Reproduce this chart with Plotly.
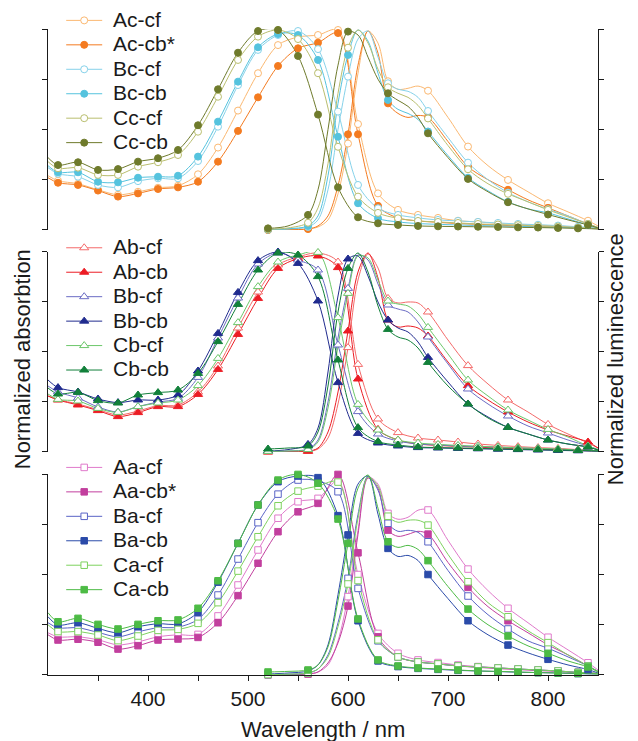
import plotly.graph_objects as go

# ---------------- data ----------------
ABS_WL = [300, 310, 330, 350, 370, 390, 410, 430, 450, 470, 490, 510, 530, 550, 570,
          590, 610, 630, 650, 670, 690, 710, 730, 750, 770, 790, 810, 830, 850]
ABS_MARK_WL = [310, 330, 350, 370, 390, 410, 430, 450, 470, 490, 510, 530, 550, 570,
               590, 610, 630, 650, 670, 690, 710, 730, 750, 770, 790, 810, 830]
EM_WL = [520, 540, 560, 570, 580, 590, 600, 610, 620, 630, 640, 650, 660, 670, 680,
         700, 720, 740, 760, 780, 800, 820, 840, 850]
EM_MARK_WL = [520, 560, 600, 640, 680, 720, 760, 800, 840]
X_TICKS = [400, 500, 600, 700, 800]
X_MINOR = [350, 450, 550, 650, 750]
Y_TICKS = [0, 0.25, 0.5, 0.75, 1]

# top panel (c)
AC_CF_ABS = [0.27, 0.245, 0.23, 0.20, 0.175, 0.19, 0.21, 0.22, 0.277, 0.41, 0.594, 0.78, 0.92, 0.96, 0.97,
             0.995, 0.527, 0.182, 0.10, 0.075, 0.06, 0.046, 0.04, 0.033, 0.028, 0.024, 0.02, 0.013, 0.008]
AC_CB_ABS = [0.26, 0.235, 0.224, 0.196, 0.166, 0.182, 0.204, 0.212, 0.24, 0.34, 0.493, 0.66, 0.816, 0.904, 0.932,
             0.98, 0.476, 0.12, 0.06, 0.045, 0.038, 0.032, 0.028, 0.024, 0.02, 0.017, 0.014, 0.01, 0.006]
BC_CF_ABS = [0.31, 0.28, 0.265, 0.224, 0.212, 0.243, 0.257, 0.257, 0.343, 0.514, 0.721, 0.896, 0.97, 0.99, 0.9,
             0.589, 0.224, 0.108, 0.075, 0.06, 0.05, 0.045, 0.04, 0.035, 0.03, 0.026, 0.022, 0.016, 0.01]
BC_CB_ABS = [0.32, 0.287, 0.287, 0.24, 0.237, 0.26, 0.265, 0.27, 0.365, 0.539, 0.738, 0.909, 0.975, 0.97, 0.846,
             0.464, 0.133, 0.058, 0.04, 0.032, 0.028, 0.025, 0.022, 0.02, 0.018, 0.015, 0.013, 0.01, 0.006]
CC_CF_ABS = [0.34, 0.307, 0.31, 0.274, 0.274, 0.315, 0.337, 0.373, 0.489, 0.663, 0.846, 0.962, 0.995, 0.95, 0.78,
             0.414, 0.166, 0.085, 0.058, 0.045, 0.04, 0.035, 0.03, 0.027, 0.024, 0.02, 0.017, 0.012, 0.008]
CC_CB_ABS = [0.36, 0.323, 0.337, 0.299, 0.303, 0.34, 0.357, 0.398, 0.521, 0.70, 0.882, 0.99, 0.995, 0.866, 0.574,
             0.212, 0.063, 0.033, 0.025, 0.02, 0.018, 0.017, 0.016, 0.015, 0.013, 0.012, 0.01, 0.008, 0.005]

AC_CF_EM = [0.0, 0.002, 0.005, 0.015, 0.05, 0.18, 0.43, 0.78, 0.99, 0.93, 0.74, 0.70, 0.705, 0.716, 0.693,
            0.56, 0.415, 0.32, 0.249, 0.19, 0.133, 0.09, 0.046, 0.02]
AC_CB_EM = [0.0, 0.002, 0.005, 0.02, 0.07, 0.22, 0.476, 0.82, 0.99, 0.88, 0.63, 0.58, 0.56, 0.57, 0.56,
            0.44, 0.315, 0.25, 0.2, 0.15, 0.11, 0.07, 0.03, 0.012]
BC_CF_EM = [0.002, 0.005, 0.015, 0.05, 0.2, 0.5, 0.763, 0.95, 0.99, 0.86, 0.73, 0.70, 0.69, 0.66, 0.592,
            0.46, 0.335, 0.25, 0.186, 0.14, 0.103, 0.07, 0.03, 0.012]
BC_CB_EM = [0.002, 0.006, 0.02, 0.07, 0.27, 0.63, 0.871, 0.995, 0.94, 0.78, 0.647, 0.6, 0.58, 0.55, 0.49,
            0.37, 0.26, 0.195, 0.14, 0.105, 0.085, 0.055, 0.025, 0.01]
CC_CF_EM = [0.003, 0.01, 0.036, 0.11, 0.33, 0.68, 0.907, 0.995, 0.93, 0.8, 0.71, 0.68, 0.66, 0.62, 0.555,
            0.42, 0.302, 0.23, 0.18, 0.14, 0.1, 0.065, 0.03, 0.012]
CC_CB_EM = [0.008, 0.02, 0.075, 0.2, 0.5, 0.82, 0.987, 0.97, 0.86, 0.75, 0.68, 0.645, 0.615, 0.56, 0.481,
            0.36, 0.254, 0.19, 0.138, 0.105, 0.077, 0.05, 0.025, 0.01]

# middle panel (b)
AB_CF_ABS = [0.28, 0.262, 0.24, 0.212, 0.185, 0.205, 0.232, 0.235, 0.30, 0.43, 0.62, 0.80, 0.935, 0.975, 0.995,
             0.95, 0.438, 0.165, 0.097, 0.07, 0.06, 0.05, 0.04, 0.033, 0.027, 0.022, 0.018, 0.012, 0.007]
AB_CB_ABS = [0.28, 0.26, 0.235, 0.207, 0.177, 0.197, 0.227, 0.227, 0.288, 0.413, 0.588, 0.768, 0.918, 0.967, 0.98,
             0.922, 0.365, 0.113, 0.06, 0.04, 0.033, 0.028, 0.024, 0.02, 0.017, 0.014, 0.012, 0.008, 0.005]
BB_CF_ABS = [0.33, 0.30, 0.27, 0.225, 0.20, 0.227, 0.25, 0.268, 0.373, 0.57, 0.77, 0.94, 0.995, 0.96, 0.91,
             0.535, 0.202, 0.09, 0.055, 0.04, 0.035, 0.03, 0.027, 0.024, 0.02, 0.017, 0.014, 0.01, 0.006]
BB_CB_ABS = [0.36, 0.322, 0.30, 0.265, 0.247, 0.26, 0.26, 0.285, 0.405, 0.593, 0.798, 0.957, 1.0, 0.943, 0.755,
             0.347, 0.093, 0.045, 0.03, 0.022, 0.02, 0.018, 0.016, 0.014, 0.012, 0.01, 0.008, 0.006, 0.004]
CB_CF_ABS = [0.29, 0.263, 0.255, 0.218, 0.198, 0.227, 0.245, 0.26, 0.332, 0.468, 0.647, 0.827, 0.95, 0.985, 0.998,
             0.672, 0.238, 0.11, 0.06, 0.045, 0.038, 0.033, 0.029, 0.025, 0.021, 0.018, 0.015, 0.01, 0.006]
CB_CB_ABS = [0.32, 0.29, 0.298, 0.257, 0.245, 0.285, 0.297, 0.31, 0.393, 0.552, 0.738, 0.91, 0.995, 0.985, 0.877,
             0.46, 0.122, 0.052, 0.035, 0.025, 0.022, 0.02, 0.018, 0.016, 0.014, 0.012, 0.01, 0.008, 0.005]

AB_CF_EM = [0.0, 0.001, 0.003, 0.015, 0.07, 0.24, 0.522, 0.86, 0.99, 0.92, 0.768, 0.745, 0.75, 0.745, 0.70,
            0.56, 0.432, 0.34, 0.26, 0.2, 0.138, 0.09, 0.045, 0.02]
AB_CB_EM = [0.0, 0.002, 0.004, 0.02, 0.1, 0.3, 0.605, 0.9, 0.995, 0.87, 0.66, 0.625, 0.63, 0.62, 0.58,
            0.45, 0.332, 0.26, 0.2, 0.15, 0.11, 0.08, 0.05, 0.02]
BB_CF_EM = [0.003, 0.005, 0.015, 0.06, 0.25, 0.57, 0.818, 0.985, 0.96, 0.84, 0.735, 0.715, 0.70, 0.65, 0.575,
            0.44, 0.315, 0.24, 0.18, 0.13, 0.095, 0.06, 0.03, 0.012]
BB_CB_EM = [0.005, 0.012, 0.038, 0.12, 0.4, 0.78, 0.965, 0.98, 0.88, 0.75, 0.66, 0.62, 0.60, 0.55, 0.473,
            0.35, 0.24, 0.175, 0.123, 0.09, 0.06, 0.04, 0.025, 0.01]
CB_CF_EM = [0.003, 0.005, 0.012, 0.05, 0.22, 0.53, 0.793, 0.98, 0.97, 0.86, 0.755, 0.74, 0.73, 0.69, 0.623,
            0.49, 0.36, 0.28, 0.21, 0.16, 0.113, 0.075, 0.03, 0.012]
CB_CB_EM = [0.015, 0.02, 0.03, 0.1, 0.33, 0.7, 0.918, 0.995, 0.9, 0.73, 0.613, 0.575, 0.56, 0.52, 0.448,
            0.33, 0.24, 0.17, 0.123, 0.09, 0.06, 0.04, 0.025, 0.01]

# bottom panel (a)
AA_CF_ABS = [0.21, 0.19, 0.19, 0.175, 0.15, 0.165, 0.19, 0.20, 0.202, 0.294, 0.448, 0.622, 0.78, 0.862, 0.879,
             0.965, 0.50, 0.207, 0.108, 0.075, 0.062, 0.05, 0.042, 0.036, 0.03, 0.025, 0.02, 0.013, 0.008]
AA_CB_ABS = [0.20, 0.174, 0.178, 0.163, 0.129, 0.146, 0.174, 0.179, 0.187, 0.26, 0.395, 0.556, 0.713, 0.812, 0.854,
             0.998, 0.608, 0.19, 0.09, 0.065, 0.055, 0.045, 0.038, 0.032, 0.027, 0.022, 0.018, 0.012, 0.007]
BA_CF_ABS = [0.26, 0.235, 0.235, 0.212, 0.19, 0.215, 0.235, 0.238, 0.277, 0.398, 0.577, 0.758, 0.90, 0.97, 0.965,
             0.912, 0.431, 0.17, 0.09, 0.065, 0.055, 0.045, 0.04, 0.035, 0.03, 0.025, 0.02, 0.013, 0.008]
BA_CB_ABS = [0.29, 0.249, 0.26, 0.232, 0.21, 0.24, 0.255, 0.254, 0.312, 0.462, 0.655, 0.846, 0.962, 0.99, 0.982,
             0.793, 0.27, 0.07, 0.042, 0.033, 0.028, 0.023, 0.02, 0.017, 0.014, 0.012, 0.01, 0.007, 0.005]
CA_CF_ABS = [0.25, 0.216, 0.216, 0.199, 0.171, 0.194, 0.222, 0.227, 0.257, 0.36, 0.517, 0.688, 0.842, 0.915, 0.94,
             0.96, 0.47, 0.175, 0.09, 0.065, 0.055, 0.045, 0.04, 0.035, 0.03, 0.025, 0.02, 0.013, 0.008]
CA_CB_ABS = [0.31, 0.265, 0.282, 0.252, 0.229, 0.252, 0.27, 0.274, 0.332, 0.469, 0.655, 0.846, 0.97, 0.998, 0.954,
             0.776, 0.279, 0.075, 0.045, 0.035, 0.03, 0.025, 0.02, 0.018, 0.015, 0.012, 0.01, 0.008, 0.005]

AA_CF_EM = [0.001, 0.002, 0.005, 0.015, 0.05, 0.17, 0.39, 0.72, 0.985, 0.95, 0.804, 0.775, 0.785, 0.82, 0.821,
            0.67, 0.527, 0.42, 0.332, 0.26, 0.188, 0.125, 0.061, 0.025]
AA_CB_EM = [0.001, 0.002, 0.005, 0.015, 0.06, 0.16, 0.343, 0.70, 0.98, 0.93, 0.721, 0.69, 0.70, 0.715, 0.701,
            0.56, 0.436, 0.34, 0.27, 0.21, 0.15, 0.1, 0.045, 0.018]
BA_CF_EM = [0.002, 0.004, 0.01, 0.03, 0.1, 0.26, 0.481, 0.8, 0.99, 0.92, 0.755, 0.715, 0.72, 0.71, 0.663,
            0.52, 0.393, 0.3, 0.229, 0.17, 0.133, 0.09, 0.045, 0.018]
BA_CB_EM = [0.005, 0.01, 0.02, 0.05, 0.15, 0.4, 0.697, 0.95, 0.99, 0.8, 0.63, 0.59, 0.595, 0.57, 0.50,
            0.38, 0.27, 0.2, 0.149, 0.11, 0.078, 0.05, 0.027, 0.01]
CA_CF_EM = [0.002, 0.004, 0.01, 0.03, 0.09, 0.24, 0.453, 0.78, 0.985, 0.94, 0.79, 0.76, 0.77, 0.77, 0.746,
            0.60, 0.464, 0.36, 0.29, 0.22, 0.161, 0.1, 0.045, 0.018]
CA_CB_EM = [0.015, 0.018, 0.025, 0.05, 0.14, 0.37, 0.655, 0.93, 0.995, 0.83, 0.663, 0.635, 0.645, 0.625, 0.569,
            0.44, 0.328, 0.25, 0.194, 0.145, 0.108, 0.07, 0.04, 0.015]

# ---------------- styles ----------------
SERIES = [
    # name, absorption, emission, panel, colour, symbol, filled
    ("Ac-cf", AC_CF_ABS, AC_CF_EM, 1, "#FBB871", "circle", False),
    ("Ac-cb*", AC_CB_ABS, AC_CB_EM, 1, "#F47B20", "circle", True),
    ("Bc-cf", BC_CF_ABS, BC_CF_EM, 1, "#86D2EA", "circle", False),
    ("Bc-cb", BC_CB_ABS, BC_CB_EM, 1, "#55C3DE", "circle", True),
    ("Cc-cf", CC_CF_ABS, CC_CF_EM, 1, "#B9BE6E", "circle", False),
    ("Cc-cb", CC_CB_ABS, CC_CB_EM, 1, "#6F7B2C", "circle", True),
    ("Ab-cf", AB_CF_ABS, AB_CF_EM, 2, "#F46A6A", "triangle-up", False),
    ("Ab-cb", AB_CB_ABS, AB_CB_EM, 2, "#EC1C24", "triangle-up", True),
    ("Bb-cf", BB_CF_ABS, BB_CF_EM, 2, "#6B6CC4", "triangle-up", False),
    ("Bb-cb", BB_CB_ABS, BB_CB_EM, 2, "#202B8E", "triangle-up", True),
    ("Cb-cf", CB_CF_ABS, CB_CF_EM, 2, "#6CC76A", "triangle-up", False),
    ("Cb-cb", CB_CB_ABS, CB_CB_EM, 2, "#12803A", "triangle-up", True),
    ("Aa-cf", AA_CF_ABS, AA_CF_EM, 3, "#E07ACB", "square", False),
    ("Aa-cb*", AA_CB_ABS, AA_CB_EM, 3, "#C23F9E", "square", True),
    ("Ba-cf", BA_CF_ABS, BA_CF_EM, 3, "#5A64C6", "square", False),
    ("Ba-cb", BA_CB_ABS, BA_CB_EM, 3, "#2B4BA9", "square", True),
    ("Ca-cf", CA_CF_ABS, CA_CF_EM, 3, "#7DD25E", "square", False),
    ("Ca-cb", CA_CB_ABS, CA_CB_EM, 3, "#4DBB45", "square", True),
]
PANEL_AXIS = {1: "y", 2: "y2", 3: "y3"}
PANEL_LEGEND = {1: "legend", 2: "legend2", 3: "legend3"}
MARK_SIZE = {"circle": 7, "triangle-up": 8, "square": 6.5}
FONT = "Liberation Sans, Arial, sans-serif"
INK = "#1a1a1a"
LEGEND_TEXT_PX = 21


def marker_style(color, symbol, filled):
    return dict(symbol=symbol, size=MARK_SIZE[symbol],
                color=color if filled else "white",
                line=dict(color=color, width=1))


fig = go.Figure()

# lines
for name, a, e, p, c, sym, filled in SERIES:
    for xs, ys in ((ABS_WL, a), (EM_WL, e)):
        fig.add_trace(go.Scatter(
            x=xs, y=ys, mode="lines", yaxis=PANEL_AXIS[p], showlegend=False,
            line=dict(color=c, width=1, shape="spline", smoothing=0.9),
            cliponaxis=False, hoverinfo="skip"))

# markers
for name, a, e, p, c, sym, filled in SERIES:
    mx = ABS_MARK_WL + EM_MARK_WL
    my = [a[ABS_WL.index(w)] for w in ABS_MARK_WL] + [e[EM_WL.index(w)] for w in EM_MARK_WL]
    fig.add_trace(go.Scatter(
        x=mx, y=my, mode="markers", yaxis=PANEL_AXIS[p], showlegend=False,
        marker=marker_style(c, sym, filled), cliponaxis=False, name=name))

# legend entries
for name, a, e, p, c, sym, filled in SERIES:
    fig.add_trace(go.Scatter(
        x=[None], y=[None], mode="lines+markers",
        name=f"<span style='font-size:{LEGEND_TEXT_PX}px'>\u00a0{name}</span>",
        yaxis=PANEL_AXIS[p], legend=PANEL_LEGEND[p], line=dict(color=c, width=1),
        marker=marker_style(c, sym, filled)))

yax = dict(range=[0, 1], tickvals=Y_TICKS, showticklabels=False, ticks="outside",
           ticklen=5, tickwidth=1, tickcolor=INK, showline=True, linecolor=INK,
           linewidth=1, mirror="ticks", showgrid=False, zeroline=False, anchor="x")

leg = dict(font=dict(family=FONT, size=16.5, color=INK), bgcolor="rgba(0,0,0,0)",
           borderwidth=0, xanchor="left", yanchor="top", x=0.024,
           itemwidth=36, tracegroupgap=0)

fig.update_layout(
    width=638, height=741,
    margin=dict(l=48, r=40, t=29, b=66, autoexpand=False),
    paper_bgcolor="white", plot_bgcolor="white",
    font=dict(family=FONT, color=INK),
    xaxis=dict(range=[300, 850], anchor="y3", tickvals=X_TICKS, ticks="outside",
               ticklen=5, tickwidth=1, tickcolor=INK, showline=True, linecolor=INK,
               linewidth=1, showgrid=False, zeroline=False,
               tickfont=dict(family=FONT, size=21, color=INK),
               minor=dict(tickmode="array", tickvals=X_MINOR, ticks="outside",
                          ticklen=5, tickwidth=1, tickcolor=INK, showgrid=False)),
    yaxis=dict(domain=[0.6889, 1.0], **yax),
    yaxis2=dict(domain=[0.3452, 0.6548], **yax),
    yaxis3=dict(domain=[0.0, 0.3111], **yax),
    legend=dict(y=1.040, **leg),
    legend2=dict(y=0.688, **leg),
    legend3=dict(y=0.348, **leg),
    showlegend=True,
    annotations=[
        dict(text="Wavelength / nm", xref="paper", yref="paper", x=0.5, y=-0.085,
             xanchor="center", yanchor="middle", showarrow=False,
             font=dict(family=FONT, size=22, color=INK)),
        dict(text="Normalized absorbtion", xref="paper", yref="paper", x=-0.047, y=0.489,
             xanchor="center", yanchor="middle", textangle=-90, showarrow=False,
             font=dict(family=FONT, size=22, color=INK)),
        dict(text="Normalized luminescence", xref="paper", yref="paper", x=1.031, y=0.489,
             xanchor="center", yanchor="middle", textangle=-90, showarrow=False,
             font=dict(family=FONT, size=22, color=INK)),
    ],
)

# the page's default 8px body margin would shift the 638x741 figure; remove it
fig.write_html("out.html",
               config={"displayModeBar": False},
               post_script="document.body.style.margin='0';document.body.style.overflow='hidden';")
